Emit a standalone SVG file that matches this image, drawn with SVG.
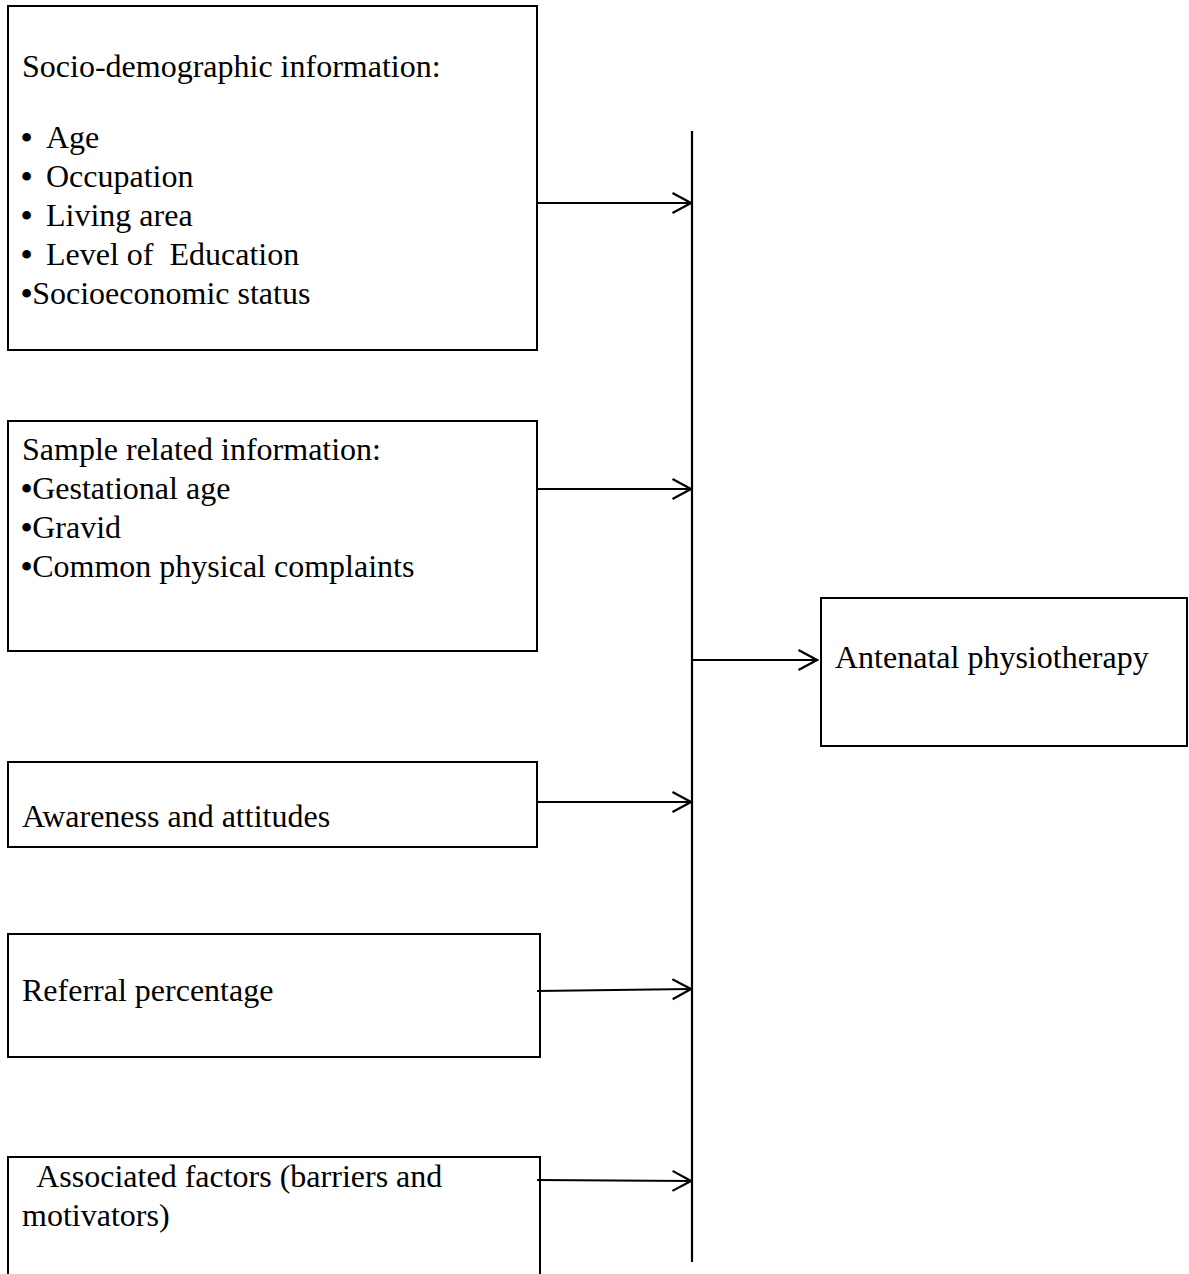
<svg xmlns="http://www.w3.org/2000/svg" width="1189" height="1274" viewBox="0 0 1189 1274">
  <style>
    .box { fill: #ffffff; stroke: #000000; stroke-width: 2; }
    .conn { stroke: #000000; stroke-width: 2.2; fill: none; }
    text { font-family: "Liberation Serif", "Times New Roman", serif; font-size: 32px; fill: #000000; }
    .bul { font-weight: bold; }
  </style>
  <defs>
    <marker id="arrow" markerUnits="userSpaceOnUse" markerWidth="22" markerHeight="24" viewBox="0 0 22 24" refX="20" refY="12" orient="auto">
      <path d="M1.5,2 L20,12 L1.5,22" fill="none" stroke="#000000" stroke-width="2.2"/>
    </marker>
  </defs>
  <rect width="1189" height="1274" fill="#ffffff"/>

  <g id="node-sociodemographic">
    <rect class="box" x="8" y="6" width="529" height="344"/>
    <text x="22" y="77">Socio-demographic information:</text>
    <text x="21" y="148"><tspan class="bul">•</tspan><tspan x="46">Age</tspan></text>
    <text x="21" y="187"><tspan class="bul">•</tspan><tspan x="46">Occupation</tspan></text>
    <text x="21" y="226"><tspan class="bul">•</tspan><tspan x="46">Living area</tspan></text>
    <text x="21" y="265" xml:space="preserve"><tspan class="bul">•</tspan><tspan x="46">Level of  Education</tspan></text>
    <text x="21" y="304"><tspan class="bul">•</tspan>Socioeconomic status</text>
  </g>

  <g id="node-sample">
    <rect class="box" x="8" y="421" width="529" height="230"/>
    <text x="22" y="460">Sample related information:</text>
    <text x="21" y="499"><tspan class="bul">•</tspan>Gestational age</text>
    <text x="21" y="538"><tspan class="bul">•</tspan>Gravid</text>
    <text x="21" y="577"><tspan class="bul">•</tspan>Common physical complaints</text>
  </g>

  <g id="node-awareness">
    <rect class="box" x="8" y="762" width="529" height="85"/>
    <text x="22" y="827">Awareness and attitudes</text>
  </g>

  <g id="node-referral">
    <rect class="box" x="8" y="934" width="532" height="123"/>
    <text x="22" y="1001">Referral percentage</text>
  </g>

  <g id="node-associated">
    <path class="box" d="M8,1280 L8,1157 L540,1157 L540,1280"/>
    <text x="22" y="1187" xml:space="preserve">  Associated factors (barriers and</text>
    <text x="22" y="1226">motivators)</text>
  </g>

  <g id="node-antenatal">
    <rect class="box" x="821" y="598" width="366" height="148"/>
    <text x="835" y="668">Antenatal physiotherapy</text>
  </g>

  <g id="connectors">
    <line class="conn" x1="692" y1="131" x2="692" y2="1262"/>
    <line class="conn" x1="537" y1="203" x2="691" y2="203" marker-end="url(#arrow)"/>
    <line class="conn" x1="537" y1="489" x2="691" y2="489" marker-end="url(#arrow)"/>
    <line class="conn" x1="537" y1="802" x2="691" y2="802" marker-end="url(#arrow)"/>
    <line class="conn" x1="537" y1="991" x2="691" y2="989" marker-end="url(#arrow)"/>
    <line class="conn" x1="537" y1="1180" x2="691" y2="1181" marker-end="url(#arrow)"/>
    <line class="conn" x1="692" y1="660" x2="817" y2="660" marker-end="url(#arrow)"/>
  </g>
</svg>
